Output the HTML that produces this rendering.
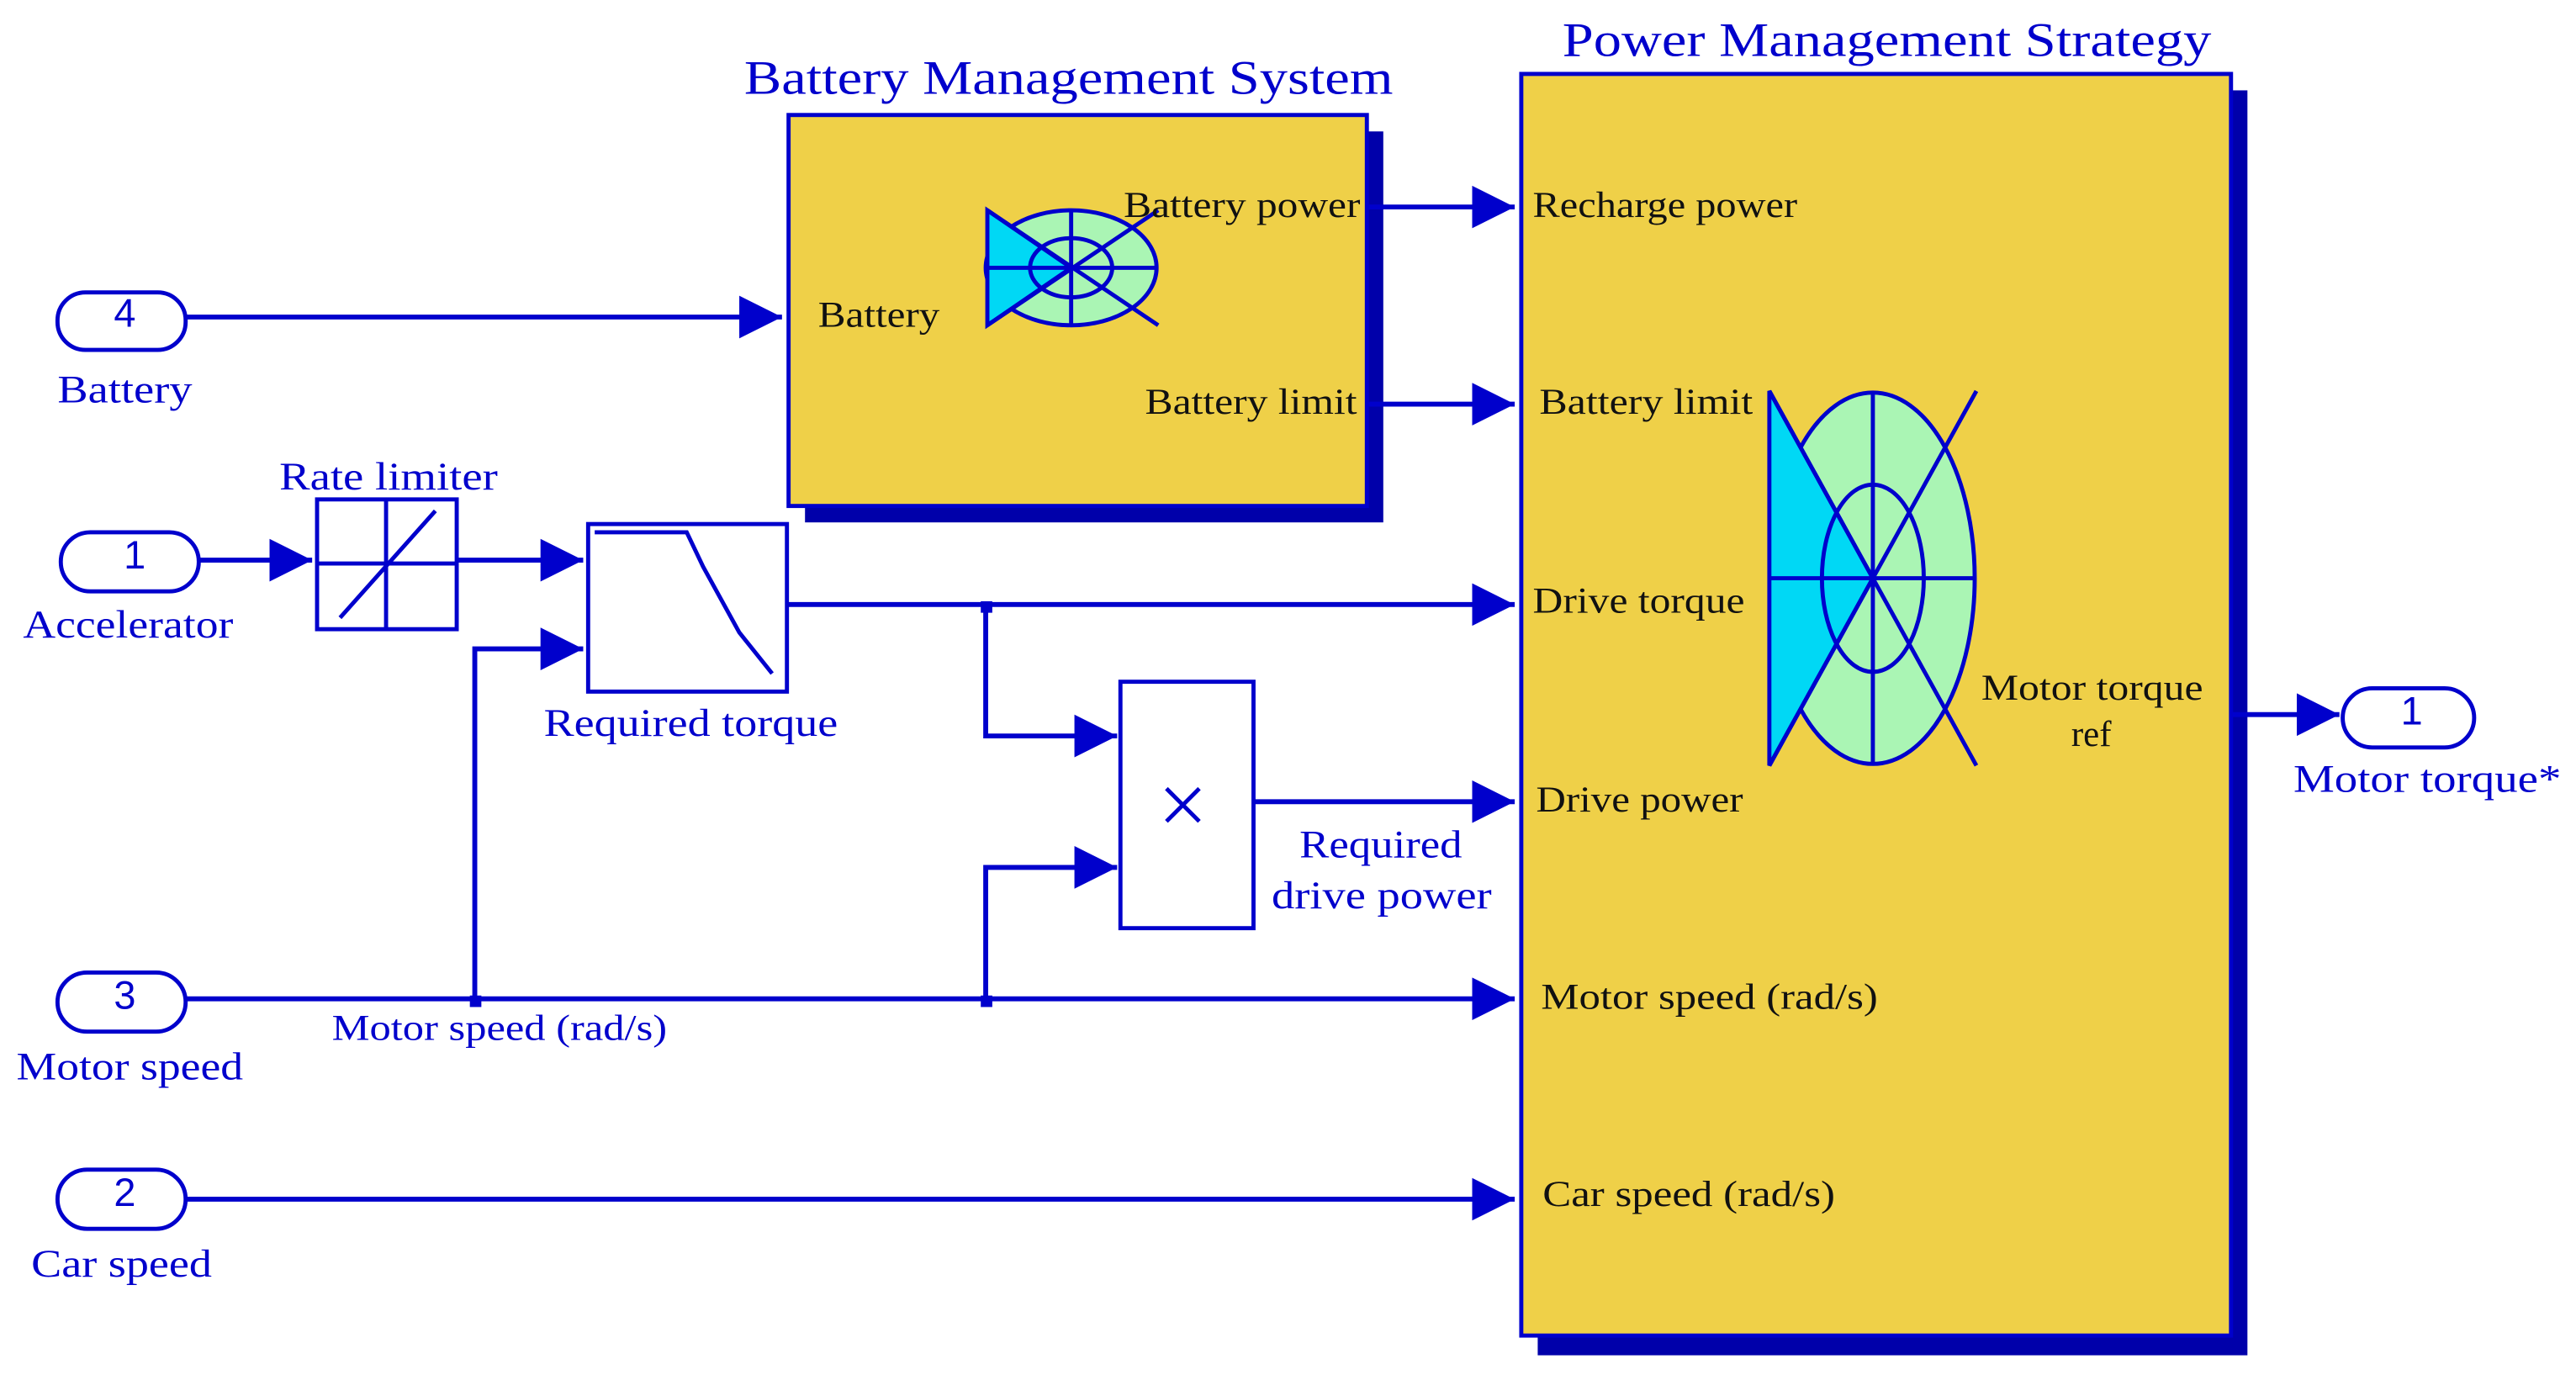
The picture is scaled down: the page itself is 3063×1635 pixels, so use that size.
<!DOCTYPE html>
<html><head><meta charset="utf-8"><style>html,body{margin:0;padding:0;background:#fff}svg{display:block}</style></head>
<body>
<svg width="3063" height="1635" viewBox="0 0 1568 837" preserveAspectRatio="none" xmlns="http://www.w3.org/2000/svg" font-family="'Liberation Serif', serif">
<defs>
<marker id="a" markerWidth="26" markerHeight="26" refX="26" refY="13" markerUnits="userSpaceOnUse" orient="auto"><path d="M0,0 L26,13 L0,26 Z" fill="#0000cc"/></marker>
</defs>
<g fill="#0000cc" lengthAdjust="spacingAndGlyphs">
<text x="453" y="57" font-size="29" textLength="395" lengthAdjust="spacingAndGlyphs">Battery Management System</text>
<text x="951" y="34" font-size="29" textLength="395" lengthAdjust="spacingAndGlyphs">Power Management Strategy</text>
</g>
<rect x="490" y="80" width="352" height="238" fill="#0000aa"/>
<rect x="480" y="70" width="352" height="238" fill="#efd048" stroke="#0000cc" stroke-width="2.5"/>
<rect x="936" y="55" width="432" height="770" fill="#0000aa"/>
<rect x="926" y="45" width="432" height="768" fill="#efd048" stroke="#0000cc" stroke-width="2.5"/>
<g stroke="#0000cc" stroke-width="2.5">
<ellipse cx="1140" cy="352" rx="62" ry="113" fill="#aaf5b4"/>
<path d="M1077,238 L1140,352 L1077,466 Z" fill="#00d8f5"/>
<ellipse cx="1140" cy="352" rx="31" ry="57" fill="none"/>
<path d="M1077,238 L1203,466 M1077,466 L1203,238 M1077,352 H1203 M1140,238 V466" fill="none"/>
<ellipse cx="652" cy="163" rx="52" ry="35" fill="#aaf5b4"/>
<path d="M601,128 L652,163 L601,198 Z" fill="#00d8f5"/>
<ellipse cx="652" cy="163" rx="25" ry="18" fill="none"/>
<path d="M601,128 L705,198 M601,198 L705,128 M601,163 H705 M652,128 V198" fill="none"/>
</g>
<g fill="#fff" stroke="#0000cc" stroke-width="2.5">
<rect x="35" y="178" width="78" height="35" rx="17"/>
<rect x="37" y="324" width="84" height="36" rx="18"/>
<rect x="35" y="592" width="78" height="36" rx="18"/>
<rect x="35" y="712" width="78" height="36" rx="18"/>
<rect x="1426" y="419" width="80" height="36" rx="18"/>
<rect x="193" y="304" width="85" height="79"/>
<rect x="358" y="319" width="121" height="102"/>
<rect x="682" y="415" width="81" height="150"/>
</g>
<g stroke="#0000cc" stroke-width="2.5" fill="none">
<path d="M193,343 H278 M235,304 V383 M207,376 L265,311"/>
<path d="M362,324 H418 L428,345 L450,385 L470,410"/>
<path d="M710,480 L730,500 M730,480 L710,500"/>
</g>
<g stroke="#0000cc" stroke-width="3" fill="none">
<path d="M113,193 H476" marker-end="url(#a)"/>
<path d="M121,341 H190" marker-end="url(#a)"/>
<path d="M278,341 H355" marker-end="url(#a)"/>
<path d="M479,368 H922" marker-end="url(#a)"/>
<path d="M600,368 V448 H680" marker-end="url(#a)"/>
<path d="M113,608 H922" marker-end="url(#a)"/>
<path d="M289,608 V395 H355" marker-end="url(#a)"/>
<path d="M600,608 V528 H680" marker-end="url(#a)"/>
<path d="M763,488 H922" marker-end="url(#a)"/>
<path d="M113,730 H922" marker-end="url(#a)"/>
<path d="M832,126 H922" marker-end="url(#a)"/>
<path d="M832,246 H922" marker-end="url(#a)"/>
<path d="M1358,435 H1424" marker-end="url(#a)"/>
</g>
<g fill="#0000cc"><rect x="286" y="606" width="7" height="7"/><rect x="597" y="606" width="7" height="7"/><rect x="597" y="366" width="7" height="7"/></g>
<g fill="#0000cc" font-family="'Liberation Sans', sans-serif" font-size="24" text-anchor="middle">
<text x="76" y="199">4</text><text x="82" y="346">1</text><text x="76" y="614">3</text><text x="76" y="734">2</text><text x="1468" y="441">1</text>
</g>
<g fill="#0000cc" font-size="24">
<text x="35" y="245" textLength="82" lengthAdjust="spacingAndGlyphs">Battery</text>
<text x="14" y="388" textLength="128" lengthAdjust="spacingAndGlyphs">Accelerator</text>
<text x="10" y="657" textLength="138" lengthAdjust="spacingAndGlyphs">Motor speed</text>
<text x="19" y="777" textLength="110" lengthAdjust="spacingAndGlyphs">Car speed</text>
<text x="1396" y="482" textLength="163" lengthAdjust="spacingAndGlyphs">Motor torque*</text>
<text x="170" y="298" textLength="133" lengthAdjust="spacingAndGlyphs">Rate limiter</text>
<text x="331" y="448" textLength="179" lengthAdjust="spacingAndGlyphs">Required torque</text>
<text x="791" y="522" textLength="99" lengthAdjust="spacingAndGlyphs">Required</text>
<text x="774" y="553" textLength="134" lengthAdjust="spacingAndGlyphs">drive power</text>
<text x="202" y="633" font-size="22" textLength="204" lengthAdjust="spacingAndGlyphs">Motor speed (rad/s)</text>
</g>
<g fill="#111" font-size="22">
<text x="933" y="132" textLength="161" lengthAdjust="spacingAndGlyphs">Recharge power</text>
<text x="937" y="252" textLength="130" lengthAdjust="spacingAndGlyphs">Battery limit</text>
<text x="933" y="373" textLength="129" lengthAdjust="spacingAndGlyphs">Drive torque</text>
<text x="935" y="494" textLength="126" lengthAdjust="spacingAndGlyphs">Drive power</text>
<text x="938" y="614" textLength="205" lengthAdjust="spacingAndGlyphs">Motor speed (rad/s)</text>
<text x="939" y="734" textLength="178" lengthAdjust="spacingAndGlyphs">Car speed (rad/s)</text>
<text x="1206" y="426" textLength="135" lengthAdjust="spacingAndGlyphs">Motor torque</text>
<text x="1273" y="454" text-anchor="middle">ref</text>
<text x="498" y="199" textLength="74" lengthAdjust="spacingAndGlyphs">Battery</text>
<text x="684" y="132" textLength="144" lengthAdjust="spacingAndGlyphs">Battery power</text>
<text x="697" y="252" textLength="129" lengthAdjust="spacingAndGlyphs">Battery limit</text>
</g>
</svg>
</body></html>
